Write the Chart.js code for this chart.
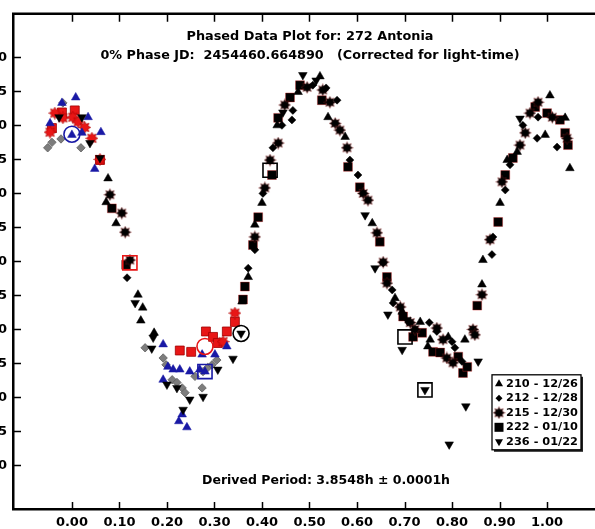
<!DOCTYPE html>
<html>
<head>
<meta charset="utf-8">
<script src="https://cdn.jsdelivr.net/npm/chart.js@4.4.1/dist/chart.umd.min.js"></script>
<style>
html, body { margin: 0; padding: 0; background: #fff; overflow: hidden; width: 595px; height: 529px; }
#wrap { position: absolute; left: -40px; top: 0; width: 660px; height: 529px; }
</style>
</head>
<body>
<div id="wrap"><canvas id="myChart" width="660" height="529"></canvas></div>
<script>
// tick values
var phaseTicks = [0.0, 0.1, 0.2, 0.3, 0.4, 0.5, 0.6, 0.7, 0.8, 0.9, 1.0];
var magTicks = [-0.30, -0.25, -0.20, -0.15, -0.10, -0.05, 0.00, 0.05, 0.10, 0.15, 0.20, 0.25, 0.30];

// sessions: [phase, reduced mag]
// "A" = the part of a session drawn in colour in the reference, "B" = the rest
var s210A = [[0.008,-0.241],[-0.021,-0.233],[-0.046,-0.203],[0.034,-0.212],[0.061,-0.190],[0.021,-0.189],[0.000,-0.186],[0.048,-0.136],
  [0.192,0.122],[0.213,0.159],[0.227,0.159],[0.248,0.162],[0.269,0.159],[0.280,0.162],[0.274,0.137],[0.301,0.137],[0.326,0.125],
  [0.192,0.174],[0.232,0.225],[0.242,0.244],[0.225,0.235],[0.202,0.155]];
var s210B = [[0.076,-0.122],[0.072,-0.087],[0.093,-0.056],[0.139,0.049],[0.149,0.068],[0.145,0.087],[0.173,0.105],[0.358,0.059],
  [0.371,0.023],[0.385,-0.054],[0.400,-0.086],[0.432,-0.200],[0.476,-0.249],[0.522,-0.272],[0.539,-0.212],[0.575,-0.183],[0.632,-0.056],
  [0.680,0.054],[0.695,0.074],[0.733,0.089],[0.749,0.125],[0.754,0.115],[0.792,0.111],[0.827,0.115],[0.863,0.034],[0.865,-0.002],
  [0.901,-0.086],[0.916,-0.149],[0.937,-0.161],[0.996,-0.186],[1.006,-0.244],[1.038,-0.211],[1.048,-0.137]];
var s212A = [[-0.019,-0.233],[-0.051,-0.167],[-0.042,-0.175],[-0.023,-0.180],[0.019,-0.167],[0.154,0.127],[0.192,0.142],[0.198,0.152],
  [0.211,0.174],[0.221,0.178],[0.232,0.186],[0.259,0.169],[0.276,0.162],[0.286,0.156],[0.295,0.152],[0.305,0.145],[0.274,0.186],[0.238,0.193]];
var s212B = [[0.116,0.024],[0.371,0.010],[0.385,-0.017],[0.402,-0.100],[0.423,-0.167],[0.442,-0.200],[0.463,-0.208],[0.465,-0.222],
  [0.507,-0.259],[0.535,-0.255],[0.558,-0.237],[0.585,-0.149],[0.602,-0.127],[0.655,0.002],[0.674,0.042],[0.676,0.061],[0.752,0.090],
  [0.768,0.103],[0.800,0.118],[0.806,0.127],[0.821,0.147],[0.884,-0.010],[0.886,-0.036],[0.912,-0.105],[0.922,-0.142],[0.949,-0.200],
  [0.979,-0.181],[0.981,-0.212],[1.021,-0.168]];
var s215A = [[-0.046,-0.190],[-0.036,-0.218],[-0.019,-0.211],[0.002,-0.212],[0.013,-0.205],[0.027,-0.197],[0.042,-0.181],[0.059,-0.150],
  [0.343,0.076],[0.318,0.118]];
var s215B = [[0.080,-0.098],[0.105,-0.071],[0.112,-0.043],[0.122,-0.002],[0.385,-0.036],[0.406,-0.108],[0.417,-0.149],[0.434,-0.174],
  [0.448,-0.230],[0.495,-0.256],[0.528,-0.252],[0.543,-0.234],[0.554,-0.203],[0.564,-0.193],[0.579,-0.167],[0.613,-0.100],[0.623,-0.090],
  [0.642,-0.042],[0.655,0.001],[0.663,0.032],[0.691,0.067],[0.712,0.090],[0.722,0.100],[0.768,0.098],[0.781,0.115],[0.789,0.142],
  [0.802,0.149],[0.844,0.100],[0.848,0.108],[0.863,0.049],[0.880,-0.032],[0.905,-0.117],[0.943,-0.171],[0.954,-0.189],[0.964,-0.218],
  [0.981,-0.234],[1.011,-0.212],[1.042,-0.181]];
var s222A = [[-0.042,-0.196],[-0.021,-0.219],[0.006,-0.222],[0.059,-0.149],[0.227,0.131],[0.251,0.133],[0.282,0.103],[0.297,0.111],
  [0.307,0.120],[0.326,0.103],[0.343,0.089]];
var s222B = [[0.084,-0.078],[0.114,0.005],[0.360,0.056],[0.364,0.037],[0.381,-0.024],[0.392,-0.065],[0.421,-0.127],[0.434,-0.211],
  [0.459,-0.241],[0.480,-0.259],[0.526,-0.237],[0.581,-0.139],[0.606,-0.109],[0.648,-0.029],[0.663,0.023],[0.697,0.081],[0.718,0.111],
  [0.737,0.105],[0.760,0.133],[0.775,0.134],[0.813,0.140],[0.823,0.164],[0.832,0.155],[0.853,0.065],[0.897,-0.058],[0.912,-0.127],
  [0.928,-0.152],[0.975,-0.227],[1.000,-0.218],[1.027,-0.208],[1.038,-0.189],[1.044,-0.171]];
var s236 = [[-0.027,-0.212],[0.021,-0.212],[0.038,-0.174],[0.059,-0.152],[0.133,0.061],[0.171,0.112],[0.168,0.128],[0.200,0.181],
  [0.221,0.186],[0.248,0.203],[0.276,0.199],[0.234,0.218],[0.307,0.159],[0.339,0.143],[0.356,0.106],[0.444,-0.219],[0.486,-0.274],
  [0.514,-0.266],[0.617,-0.068],[0.638,0.010],[0.665,0.078],[0.705,0.086],[0.695,0.130],[0.743,0.189],[0.794,0.269],[0.829,0.213],
  [0.855,0.147],[0.943,-0.210]];

// highlighted points (open rings / boxes)
var ringPts = [[0.000,-0.187],[0.280,0.125],[0.356,0.106]];
var boxPts = [[0.122,0.002],[0.280,0.162],[0.417,-0.134],[0.701,0.111],[0.743,0.189]];

var sessionLabels = ['210 - 12/26', '212 - 12/28', '215 - 12/30', '222 - 01/10', '236 - 01/22'];
var titleLines = ['Phased Data Plot for: 272 Antonia', '0% Phase JD:  2454460.664890   (Corrected for light-time)'];
var periodText = 'Derived Period: 3.8548h \u00b1 0.0001h';

var blue = 'rgb(25,25,165)';
var gray = 'rgb(125,125,125)';
var red = 'rgb(232,22,22)';
var ringColors = [blue, red, '#000'];
var boxColors = [red, blue, '#000', '#000', '#000'];
var FONT = '"DejaVu Sans", "Liberation Sans", sans-serif';

function burst(fill, edge) {
    var c = document.createElement('canvas');
    c.width = 13; c.height = 13;
    var g = c.getContext('2d');
    g.beginPath();
    for (var i = 0; i < 16; i++) {
        var r = i % 2 ? 3.6 : 6;
        var a = i * Math.PI / 8;
        g.lineTo(6.5 + r * Math.cos(a), 6.5 + r * Math.sin(a));
    }
    g.closePath();
    g.fillStyle = fill;
    g.fill();
    g.strokeStyle = edge;
    g.lineWidth = 0.6;
    g.stroke();
    return c;
}
var burstRed = burst(red, 'rgb(170,0,0)');
var burstDark = burst('#000', 'rgba(200,40,40,0.45)');

function pts(arr) {
    return arr.map(function(p) { return { x: p[0], y: p[1] }; });
}

function ds(label, arr, style) {
    return Object.assign({ label: label, data: pts(arr) }, style);
}

var datasets = [
    ds('rings', ringPts, { pointStyle: 'circle', pointRadius: 8, backgroundColor: 'rgba(0,0,0,0)',
        borderColor: function(c) { return ringColors[c.dataIndex]; }, pointBorderWidth: 1.6 }),
    ds('boxes', boxPts, { pointStyle: 'rect', pointRadius: 10, backgroundColor: 'rgba(0,0,0,0)',
        borderColor: function(c) { return boxColors[c.dataIndex]; }, pointBorderWidth: 1.6 }),
    ds('236', s236, { pointStyle: 'triangle', rotation: 180, pointRadius: 5, backgroundColor: '#000', borderColor: '#000', pointBorderWidth: 0.5 }),
    ds('210a', s210A, { pointStyle: 'triangle', pointRadius: 5, backgroundColor: blue, borderColor: blue, pointBorderWidth: 0.5 }),
    ds('212a', s212A, { pointStyle: 'rectRot', pointRadius: 4.2, backgroundColor: gray, borderColor: 'rgb(95,95,95)', pointBorderWidth: 0.8 }),
    ds('215a', s215A, { pointStyle: burstRed, pointRadius: 6 }),
    ds('222a', s222A, { pointStyle: 'rect', pointRadius: 6.3, backgroundColor: red, borderColor: 'rgb(160,0,0)', pointBorderWidth: 0.8 }),
    ds('210b', s210B, { pointStyle: 'triangle', pointRadius: 5, backgroundColor: '#000', borderColor: '#000', pointBorderWidth: 0.5 }),
    ds('212b', s212B, { pointStyle: 'rectRot', pointRadius: 4, backgroundColor: '#000', borderColor: '#000', pointBorderWidth: 0.5 }),
    ds('215b', s215B, { pointStyle: burstDark, pointRadius: 6 }),
    ds('222b', s222B, { pointStyle: 'rect', pointRadius: 6.3, backgroundColor: '#000', borderColor: 'rgba(200,40,40,0.5)', pointBorderWidth: 0.8 })
];

function fitText(ctx, text, x, y, width, align) {
    var w = ctx.measureText(text).width;
    ctx.save();
    ctx.translate(x, y);
    ctx.scale(width / w, 1);
    ctx.textAlign = align || 'center';
    ctx.fillText(text, 0, 0);
    ctx.restore();
}

function legendMark(ctx, i, x, y) {
    ctx.fillStyle = '#000';
    ctx.beginPath();
    if (i === 0) {
        ctx.moveTo(x, y - 4.5); ctx.lineTo(x + 4, y + 2.5); ctx.lineTo(x - 4, y + 2.5); ctx.closePath(); ctx.fill();
    } else if (i === 1) {
        ctx.moveTo(x, y - 3.5); ctx.lineTo(x + 3.5, y); ctx.lineTo(x, y + 3.5); ctx.lineTo(x - 3.5, y); ctx.closePath(); ctx.fill();
    } else if (i === 2) {
        ctx.drawImage(burstDark, x - 6.5, y - 6.5);
    } else if (i === 3) {
        ctx.fillRect(x - 4.5, y - 4.5, 9, 9);
    } else {
        ctx.moveTo(x - 4, y - 2.5); ctx.lineTo(x + 4, y - 2.5); ctx.lineTo(x, y + 4.5); ctx.closePath(); ctx.fill();
    }
}

var decor = {
    id: 'decor',
    afterDraw: function(chart) {
        var ctx = chart.ctx, a = chart.chartArea, x = chart.scales.x, y = chart.scales.y;
        ctx.save();
        ctx.strokeStyle = '#000';
        ctx.lineWidth = 2.5;
        ctx.beginPath();
        ctx.moveTo(a.left - 1, a.top);
        ctx.lineTo(a.right, a.top);
        ctx.lineTo(a.right, a.bottom);
        ctx.stroke();

        ctx.lineWidth = 1.5;
        ctx.beginPath();
        x.ticks.forEach(function(t) {
            var px = Math.round(x.getPixelForValue(t.value)) + 0.5;
            ctx.moveTo(px, a.top); ctx.lineTo(px, a.top + 8);
            ctx.moveTo(px, a.bottom); ctx.lineTo(px, a.bottom - 7);
        });
        y.ticks.forEach(function(t) {
            var py = Math.round(y.getPixelForValue(t.value)) + 0.5;
            ctx.moveTo(a.left, py); ctx.lineTo(a.left + 8, py);
        });
        ctx.stroke();

        ctx.fillStyle = '#000';
        ctx.textBaseline = 'middle';
        ctx.font = 'bold 13px ' + FONT;
        fitText(ctx, titleLines[0], a.left + 297, a.top + 23, 247);
        fitText(ctx, titleLines[1], a.left + 297, a.top + 42, 419);
        fitText(ctx, periodText, a.left + 313, a.top + 467, 248);

        // legend box
        var lx = a.left + 479, ly = a.top + 361, lw = 89, lh = 75;
        ctx.fillStyle = '#222';
        ctx.fillRect(lx + 2, ly + 2, lw, lh);
        ctx.fillStyle = '#fff';
        ctx.fillRect(lx, ly, lw, lh);
        ctx.lineWidth = 1.3;
        ctx.strokeRect(lx, ly, lw, lh);
        ctx.font = 'bold 11px ' + FONT;
        sessionLabels.forEach(function(s, i) {
            var ry = ly + 9 + i * 14.5;
            legendMark(ctx, i, lx + 7, ry);
            ctx.fillStyle = '#000';
            fitText(ctx, s, lx + 14, ry, 72, 'left');
        });
        ctx.restore();
    }
};

var config = {
    type: 'scatter',
    data: { datasets: datasets },
    options: {
        responsive: false,
        animation: false,
        events: [],
        layout: { padding: { top: 13, right: 14, left: 0, bottom: 0 } },
        scales: {
            x: {
                type: 'linear',
                min: -0.124,
                max: 1.124,
                afterBuildTicks: function(scale) {
                    scale.ticks = phaseTicks.map(function(v) { return { value: v }; });
                },
                afterFit: function(scale) { scale.height = 20; },
                grid: { display: false, drawTicks: false },
                border: { display: true, color: '#000', width: 2.5 },
                ticks: {
                    padding: 6,
                    color: '#000',
                    font: { family: FONT, size: 13, weight: 'bold' },
                    callback: function(v) { return v.toFixed(2); }
                }
            },
            y: {
                type: 'linear',
                reverse: true,
                min: -0.364,
                max: 0.364,
                afterBuildTicks: function(scale) {
                    scale.ticks = magTicks.map(function(v) { return { value: v }; });
                },
                afterFit: function(scale) { scale.width = 53; },
                grid: { display: false, drawTicks: false },
                border: { display: true, color: '#000', width: 2.5 },
                ticks: {
                    padding: 6,
                    color: '#000',
                    font: { family: FONT, size: 13, weight: 'bold' },
                    callback: function(v) { return v.toFixed(2); }
                }
            }
        },
        plugins: {
            legend: { display: false },
            title: { display: false },
            tooltip: { enabled: false }
        }
    },
    plugins: [decor]
};

window.onload = function() {
    var ctx = document.getElementById('myChart').getContext('2d');
    window.myChart = new Chart(ctx, config);
};
</script>
</body>
</html>
